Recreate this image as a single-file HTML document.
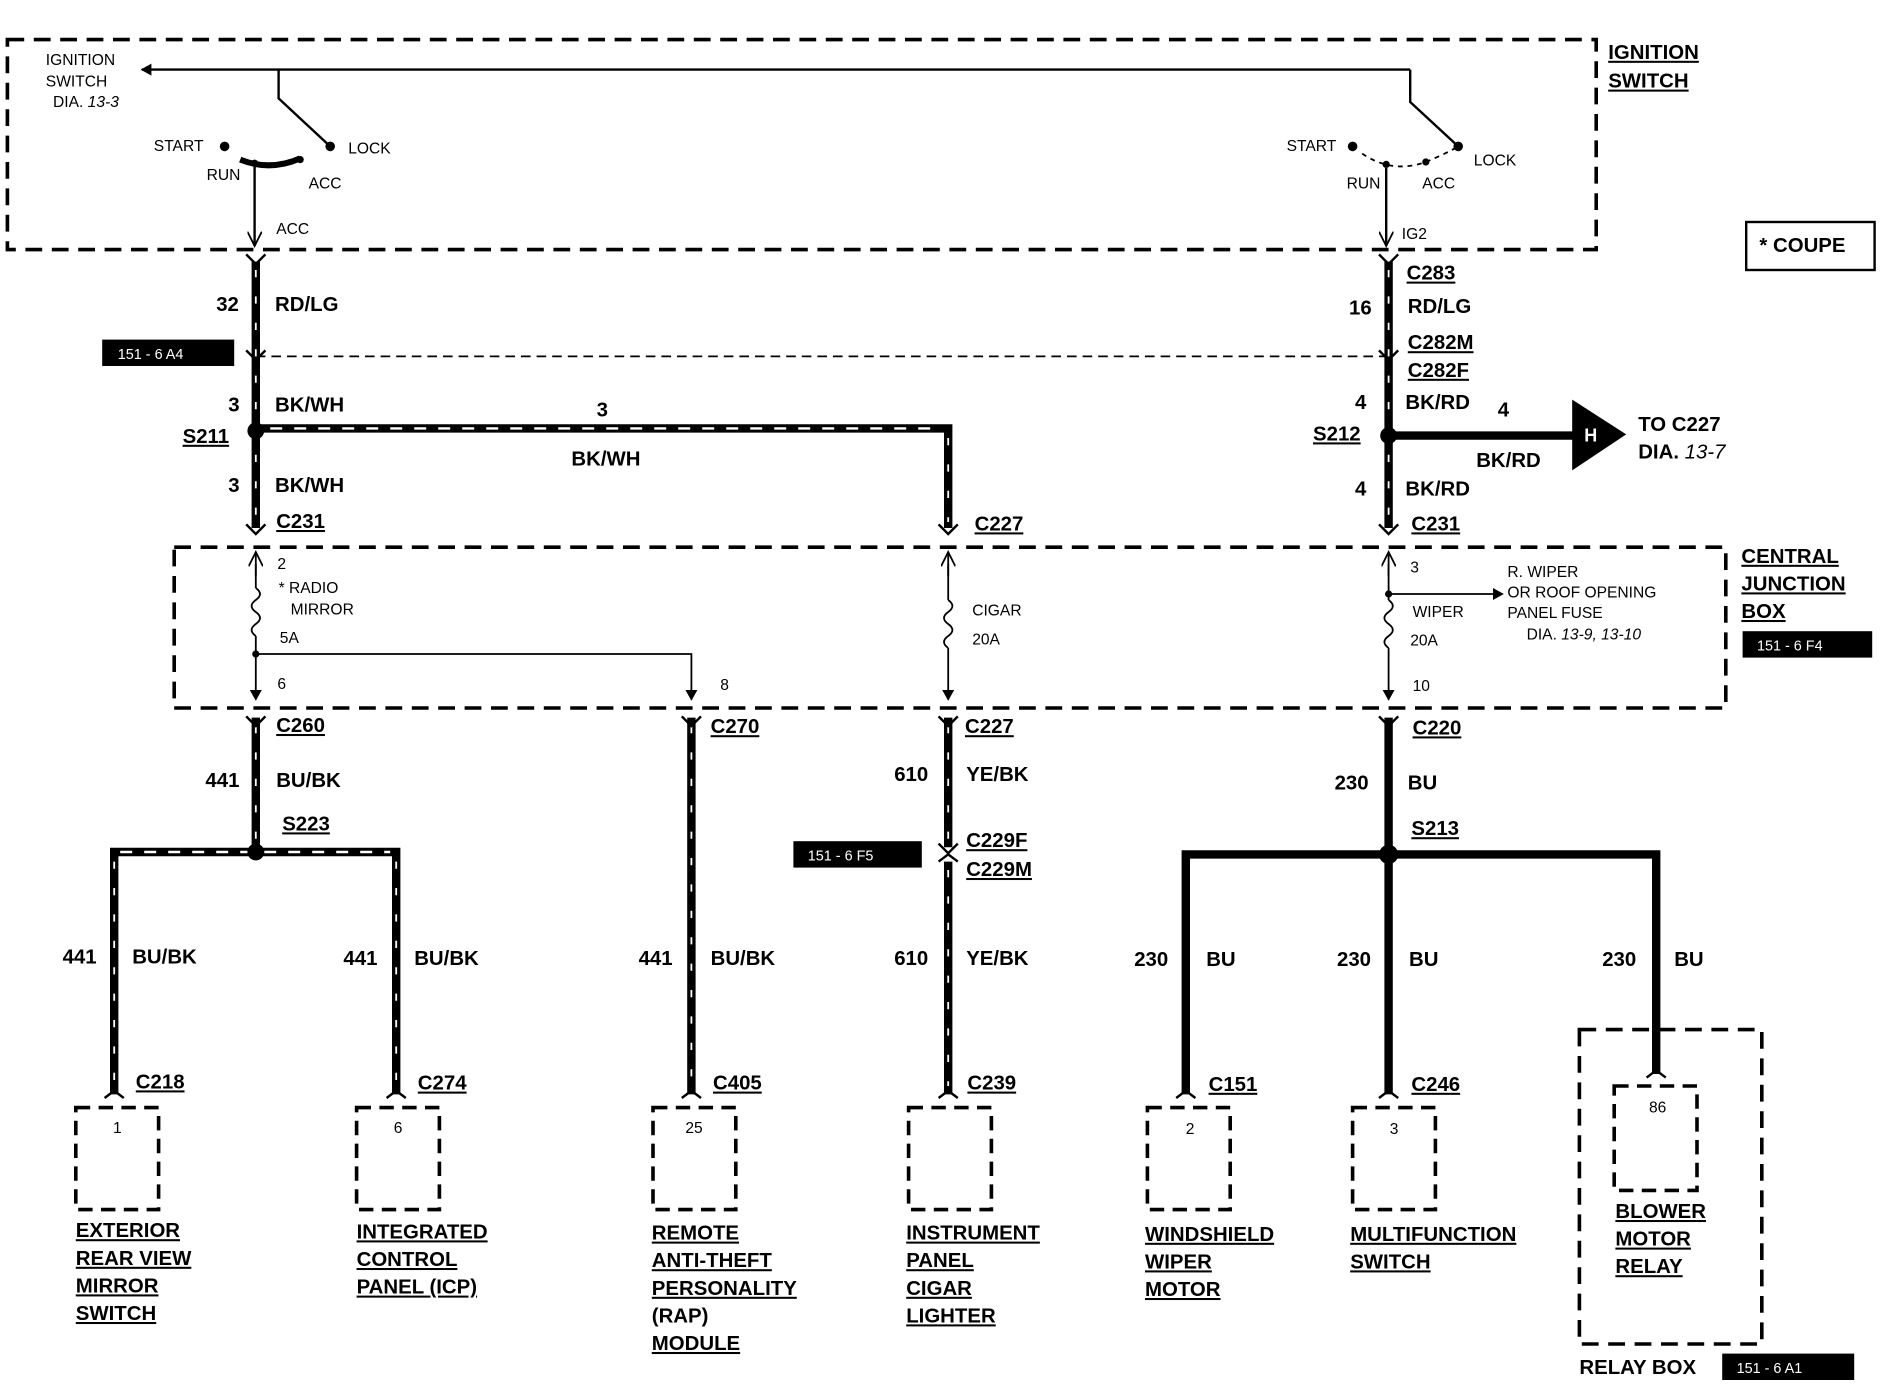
<!DOCTYPE html>
<html><head><meta charset="utf-8"><style>
html,body{margin:0;padding:0;background:#fff}
svg{display:block}
text{font-family:"Liberation Sans",Arial,sans-serif;fill:#000}
.b{font-weight:bold;font-size:17px}
.s{font-size:13px}
.u{text-decoration:underline}
</style></head><body>
<svg width="1882" height="1392" viewBox="0 0 1568 1160" xmlns="http://www.w3.org/2000/svg">
<defs>
<marker id="ah" markerWidth="10" markerHeight="10" refX="8" refY="5" orient="auto" markerUnits="userSpaceOnUse"><path d="M0,0 L9,5 L0,10 Z" fill="#000"/></marker>
<marker id="ao" markerWidth="14" markerHeight="12" refX="12" refY="6" orient="auto" markerUnits="userSpaceOnUse"><path d="M0,0 L12,6 L0,12" fill="none" stroke="#000" stroke-width="1.5"/></marker>
</defs>
<g fill="none" stroke="#000">
<!-- dashed boxes -->
<rect x="6" y="33" width="1324" height="175" stroke-width="3" stroke-dasharray="14 8"/>
<rect x="145" y="456" width="1293" height="134" stroke-width="3" stroke-dasharray="14 8"/>
<rect x="63" y="923" width="69" height="85" stroke-width="3" stroke-dasharray="12 7"/>
<rect x="297" y="923" width="69" height="85" stroke-width="3" stroke-dasharray="12 7"/>
<rect x="544" y="923" width="69" height="85" stroke-width="3" stroke-dasharray="12 7"/>
<rect x="757" y="923" width="69" height="85" stroke-width="3" stroke-dasharray="12 7"/>
<rect x="956" y="923" width="69" height="85" stroke-width="3" stroke-dasharray="12 7"/>
<rect x="1127" y="923" width="69" height="85" stroke-width="3" stroke-dasharray="12 7"/>
<rect x="1316" y="858" width="152" height="262" stroke-width="3" stroke-dasharray="14 8"/>
<rect x="1345" y="905" width="69" height="87" stroke-width="3" stroke-dasharray="12 7"/>
<rect x="1455" y="185" width="107" height="40" stroke-width="2"/>
<!-- switch lines -->
<line x1="1175" y1="58" x2="118" y2="58" stroke-width="2" marker-end="url(#ah)"/>
<polyline points="232,58 232,82 275,122" stroke-width="2"/>
<polyline points="1175,58 1175,85 1215,122" stroke-width="2"/>
<path d="M200,133 Q225,143 250,132" stroke-width="5"/>
<line x1="212" y1="138" x2="212" y2="205" stroke-width="2" marker-end="url(#ao)"/>
<path d="M1135,128 Q1160,145 1188,135" stroke-width="1.5" stroke-dasharray="4 4"/>
<path d="M1188,135 Q1205,128 1215,122" stroke-width="1.5" stroke-dasharray="4 4"/>
<line x1="1155" y1="140" x2="1155" y2="205" stroke-width="2" marker-end="url(#ao)"/>
<line x1="213" y1="297" x2="1157" y2="297" stroke-width="1.5" stroke-dasharray="8 5"/>
<!-- central junction internals -->
<line x1="213" y1="480" x2="213" y2="460" stroke-width="1.5" marker-end="url(#ao)"/>
<line x1="213" y1="470" x2="213" y2="490" stroke-width="1.5"/>
<path d="M213,490 q7,5 0,10 q-7,5 0,10 q7,5 0,10 q-7,5 0,10" stroke-width="1.5"/>
<line x1="213" y1="530" x2="213" y2="583" stroke-width="1.5" marker-end="url(#ah)"/>
<polyline points="213,545 576,545 576,583" stroke-width="1.5" marker-end="url(#ah)"/>
<line x1="790" y1="480" x2="790" y2="460" stroke-width="1.5" marker-end="url(#ao)"/>
<line x1="790" y1="470" x2="790" y2="500" stroke-width="1.5"/>
<path d="M790,500 q7,5 0,10 q-7,5 0,10 q7,5 0,10 q-7,5 0,10" stroke-width="1.5"/>
<line x1="790" y1="540" x2="790" y2="583" stroke-width="1.5" marker-end="url(#ah)"/>
<line x1="1157" y1="480" x2="1157" y2="460" stroke-width="1.5" marker-end="url(#ao)"/>
<line x1="1157" y1="470" x2="1157" y2="500" stroke-width="1.5"/>
<path d="M1157,500 q7,5 0,10 q-7,5 0,10 q7,5 0,10 q-7,5 0,10" stroke-width="1.5"/>
<line x1="1157" y1="540" x2="1157" y2="583" stroke-width="1.5" marker-end="url(#ah)"/>
<line x1="1157" y1="495" x2="1252" y2="495" stroke-width="1.5" marker-end="url(#ah)"/>
<!-- solid thick wires -->
<g stroke-width="7">
<line x1="213" y1="218" x2="213" y2="440"/>
<line x1="1157" y1="218" x2="1157" y2="440"/>
<polyline points="213,357 790,357 790,440"/>
<line x1="1157" y1="363" x2="1315" y2="363"/>
<line x1="213" y1="598" x2="213" y2="710"/>
<polyline points="95,912 95,710 330,710 330,912"/>
<line x1="576" y1="598" x2="576" y2="912"/>
<line x1="790" y1="598" x2="790" y2="706"/>
<line x1="790" y1="718" x2="790" y2="912"/>
<line x1="1157" y1="598" x2="1157" y2="912"/>
<polyline points="988,912 988,712 1380,712 1380,895"/>
</g>
<!-- stripes -->
<g stroke="#fff" stroke-width="2">
<line x1="225" y1="357" x2="785" y2="357" stroke-dasharray="10 10"/>
<line x1="100" y1="710" x2="325" y2="710" stroke-dasharray="10 10"/>
<g stroke-dasharray="6 16" stroke-width="1.5">
<line x1="213" y1="225" x2="213" y2="435"/>
<line x1="1157" y1="225" x2="1157" y2="435"/>
<line x1="790" y1="365" x2="790" y2="435"/>
<line x1="213" y1="605" x2="213" y2="705"/>
<line x1="95" y1="718" x2="95" y2="905"/>
<line x1="330" y1="718" x2="330" y2="905"/>
<line x1="576" y1="605" x2="576" y2="905"/>
<line x1="790" y1="605" x2="790" y2="700"/>
<line x1="790" y1="725" x2="790" y2="905"/>
</g>
</g>
<!-- connector chevrons -->
<g stroke-width="2">
<path d="M205,212 l8,8 l8,-8 M205,292 l8,8 l8,-8 M205,437 l8,8 l8,-8 M205,597 l8,8 l8,-8"/>
<path d="M1149,212 l8,8 l8,-8 M1149,292 l8,8 l8,-8 M1149,437 l8,8 l8,-8 M1149,597 l8,8 l8,-8"/>
<path d="M782,437 l8,8 l8,-8 M782,597 l8,8 l8,-8 M782,703 l8,8 l8,-8 M782,718 l8,-6 l8,6"/>
<path d="M568,597 l8,8 l8,-8"/>
<path d="M87,915 l8,-6 l8,6 M322,915 l8,-6 l8,6 M568,915 l8,-6 l8,6 M782,915 l8,-6 l8,6 M980,915 l8,-6 l8,6 M1149,915 l8,-6 l8,6 M1372,898 l8,-6 l8,6"/>
</g>
</g>
<!-- dots -->
<g fill="#000">
<circle cx="213" cy="359" r="7"/><circle cx="1157" cy="363" r="7"/>
<circle cx="213" cy="710" r="7"/><circle cx="1157" cy="712" r="8"/>
<circle cx="187" cy="122" r="4"/><circle cx="275" cy="122" r="4"/><circle cx="212" cy="136" r="3"/><circle cx="250" cy="133" r="3"/>
<circle cx="1127" cy="122" r="4"/><circle cx="1215" cy="122" r="4"/><circle cx="1155" cy="137" r="3"/><circle cx="1188" cy="135" r="3"/>
<circle cx="213" cy="545" r="3"/><circle cx="1157" cy="495" r="3"/>
<path d="M1310,333 L1355,362 L1310,392 Z"/>
<rect x="85" y="283" width="110" height="22"/><rect x="661" y="701" width="107" height="22"/>
<rect x="1452" y="526" width="108" height="22"/><rect x="1435" y="1128" width="110" height="22"/>
</g>
<text x="1320" y="368" font-size="15" font-weight="bold" style="fill:#fff">H</text>
<g font-size="12" style="fill:#fff">
<text x="98" y="299" style="fill:#fff">151 - 6 A4</text>
<text x="673" y="717" style="fill:#fff">151 - 6 F5</text>
<text x="1464" y="542" style="fill:#fff">151 - 6 F4</text>
<text x="1447" y="1144" style="fill:#fff">151 - 6 A1</text>
</g>
<!-- small labels -->
<g class="s">
<text x="38" y="54">IGNITION</text><text x="38" y="72">SWITCH</text><text x="44" y="89">DIA. <tspan font-style="italic">13-3</tspan></text>
<text x="128" y="126">START</text><text x="290" y="128">LOCK</text><text x="172" y="150">RUN</text><text x="257" y="157">ACC</text><text x="230" y="195">ACC</text>
<text x="1072" y="126">START</text><text x="1228" y="138">LOCK</text><text x="1122" y="157">RUN</text><text x="1185" y="157">ACC</text><text x="1168" y="199">IG2</text>
<text x="231" y="474">2</text><text x="232" y="494">* RADIO</text><text x="242" y="512">MIRROR</text><text x="233" y="536">5A</text><text x="231" y="574">6</text><text x="600" y="575">8</text>
<text x="810" y="513">CIGAR</text><text x="810" y="537">20A</text>
<text x="1175" y="477">3</text><text x="1177" y="514">WIPER</text><text x="1175" y="538">20A</text><text x="1177" y="576">10</text>
<text x="1256" y="481">R. WIPER</text><text x="1256" y="498">OR  ROOF OPENING</text><text x="1256" y="515">PANEL FUSE</text><text x="1272" y="533">DIA. <tspan font-style="italic">13-9, 13-10</tspan></text>
<text x="94" y="944">1</text><text x="328" y="944">6</text><text x="571" y="944">25</text><text x="988" y="945">2</text><text x="1158" y="945">3</text><text x="1374" y="927">86</text>
</g>
<!-- bold labels -->
<g class="b">
<text x="1340" y="49" class="u">IGNITION</text><text x="1340" y="73" class="u">SWITCH</text>
<text x="1466" y="210">* COUPE</text>
<text x="180" y="259">32</text><text x="229" y="259">RD/LG</text>
<text x="1124" y="262">16</text><text x="1173" y="261">RD/LG</text>
<text x="1172" y="233" class="u">C283</text><text x="1173" y="291" class="u">C282M</text><text x="1173" y="314" class="u">C282F</text>
<text x="190" y="343">3</text><text x="229" y="343">BK/WH</text>
<text x="152" y="369" class="u">S211</text>
<text x="497" y="347">3</text><text x="476" y="388">BK/WH</text>
<text x="190" y="410">3</text><text x="229" y="410">BK/WH</text>
<text x="230" y="440" class="u">C231</text><text x="812" y="442" class="u">C227</text>
<text x="1129" y="341">4</text><text x="1171" y="341">BK/RD</text><text x="1248" y="347">4</text>
<text x="1094" y="367" class="u">S212</text><text x="1230" y="389">BK/RD</text>
<text x="1365" y="359">TO C227</text><text x="1365" y="382">DIA. <tspan font-style="italic" font-weight="normal">13-7</tspan></text>
<text x="1129" y="413">4</text><text x="1171" y="413">BK/RD</text><text x="1176" y="442" class="u">C231</text>
<text x="1451" y="469" class="u">CENTRAL</text><text x="1451" y="492" class="u">JUNCTION</text><text x="1451" y="515" class="u">BOX</text>
<text x="230" y="610" class="u">C260</text><text x="592" y="611" class="u">C270</text><text x="804" y="611" class="u">C227</text><text x="1177" y="612" class="u">C220</text>
<text x="171" y="656">441</text><text x="230" y="656">BU/BK</text>
<text x="745" y="651">610</text><text x="805" y="651">YE/BK</text>
<text x="1112" y="658">230</text><text x="1173" y="658">BU</text>
<text x="235" y="692" class="u">S223</text><text x="1176" y="696" class="u">S213</text>
<text x="805" y="706" class="u">C229F</text><text x="805" y="730" class="u">C229M</text>
<text x="52" y="803">441</text><text x="110" y="803">BU/BK</text>
<text x="286" y="804">441</text><text x="345" y="804">BU/BK</text>
<text x="532" y="804">441</text><text x="592" y="804">BU/BK</text>
<text x="745" y="804">610</text><text x="805" y="804">YE/BK</text>
<text x="945" y="805">230</text><text x="1005" y="805">BU</text>
<text x="1114" y="805">230</text><text x="1174" y="805">BU</text>
<text x="1335" y="805">230</text><text x="1395" y="805">BU</text>
<text x="113" y="907" class="u">C218</text><text x="348" y="908" class="u">C274</text><text x="594" y="908" class="u">C405</text>
<text x="806" y="908" class="u">C239</text><text x="1007" y="909" class="u">C151</text><text x="1176" y="909" class="u">C246</text>
<text x="63" y="1031" class="u">EXTERIOR</text><text x="63" y="1054" class="u">REAR VIEW</text><text x="63" y="1077" class="u">MIRROR</text><text x="63" y="1100" class="u">SWITCH</text>
<text x="297" y="1032" class="u">INTEGRATED</text><text x="297" y="1055" class="u">CONTROL</text><text x="297" y="1078" class="u">PANEL (ICP)</text>
<text x="543" y="1033" class="u">REMOTE</text><text x="543" y="1056" class="u">ANTI-THEFT</text><text x="543" y="1079" class="u">PERSONALITY</text><text x="543" y="1102">(RAP)</text><text x="543" y="1125" class="u">MODULE</text>
<text x="755" y="1033" class="u">INSTRUMENT</text><text x="755" y="1056" class="u">PANEL</text><text x="755" y="1079" class="u">CIGAR</text><text x="755" y="1102" class="u">LIGHTER</text>
<text x="954" y="1034" class="u">WINDSHIELD</text><text x="954" y="1057" class="u">WIPER</text><text x="954" y="1080" class="u">MOTOR</text>
<text x="1125" y="1034" class="u">MULTIFUNCTION</text><text x="1125" y="1057" class="u">SWITCH</text>
<text x="1346" y="1015" class="u">BLOWER</text><text x="1346" y="1038" class="u">MOTOR</text><text x="1346" y="1061" class="u">RELAY</text>
<text x="1316" y="1145">RELAY BOX</text>
</g>
</svg>
</body></html>
